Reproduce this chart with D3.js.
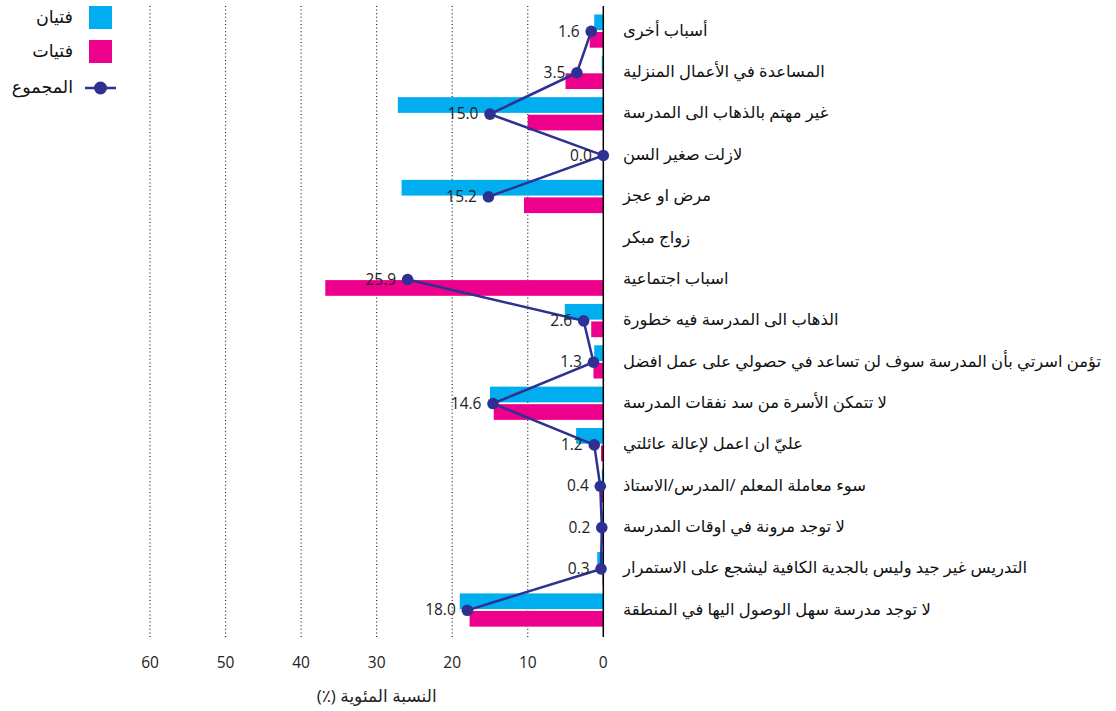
<!DOCTYPE html>
<html><head><meta charset="utf-8">
<script src="https://cdn.jsdelivr.net/npm/d3@7/dist/d3.min.js"></script>
<style>
body{margin:0;background:#fff;}
svg{display:block;font-family:"Segoe UI","Open Sans","DejaVu Sans",sans-serif;}
</style></head><body>
<svg id="chart" width="1116" height="711"></svg>
<script>
const categories = [
  "أسباب أخرى",
  "المساعدة في الأعمال المنزلية",
  "غير مهتم بالذهاب الى المدرسة",
  "لازلت صغير السن",
  "مرض او عجز",
  "زواج مبكر",
  "اسباب اجتماعية",
  "الذهاب الى المدرسة فيه خطورة",
  "تؤمن اسرتي بأن المدرسة سوف لن تساعد في حصولي على عمل افضل",
  "لا تتمكن الأسرة من سد نفقات المدرسة",
  "عليّ ان اعمل لإعالة عائلتي",
  "سوء معاملة المعلم /المدرس/الاستاذ",
  "لا توجد مرونة في اوقات المدرسة",
  "التدريس غير جيد وليس بالجدية الكافية ليشجع على الاستمرار",
  "لا توجد مدرسة سهل الوصول اليها في المنطقة"
];
const boys  = [1.2, 0.2, 27.2, 0, 26.7, 0, 0, 5.1, 1.2, 15.0, 3.6, 0.2, 0.3, 0.8, 19.0];
const girls = [1.8, 5.0, 10.0, 0, 10.5, 0, 36.8, 1.6, 1.3, 14.5, 0.3, 0.4, 0.2, 0.1, 17.7];
const total = [1.6, 3.5, 15.0, 0.0, 15.2, null, 25.9, 2.6, 1.3, 14.6, 1.2, 0.4, 0.2, 0.3, 18.0];
const xTicks = [0, 10, 20, 30, 40, 50, 60];
const seriesNames = ["فتيان", "فتيات", "المجموع"];
const axisTitle = "النسبة المئوية (٪)";

const C_BOYS = "#00AEEF", C_GIRLS = "#EC008C", C_TOTAL = "#2E3192";

const svg = d3.select("#chart");
const x = d3.scaleLinear().domain([0, 60]).range([603.3, 150]);
const y = d3.scaleBand().domain(categories.map((d,i)=>i)).range([10.7, 631]);
const bw = y.bandwidth();
const barH = bw * 0.38;
const cy = i => y(i) + bw/2;

// gridlines
const gTop = 6, gBot = 637;
svg.append("g").selectAll("line").data(xTicks.filter(t=>t>0)).join("line")
  .attr("x1", d=>x(d)).attr("x2", d=>x(d)).attr("y1", gTop).attr("y2", gBot)
  .attr("stroke", "#222").attr("stroke-width", 1.2).attr("stroke-dasharray", "1,2.6");

// bars
const data = categories.map((c,i)=>({i, b: boys[i], g: girls[i], t: total[i]}));
svg.append("g").selectAll("rect").data(data.filter(d=>d.b>0)).join("rect")
  .attr("x", d=>x(d.b)).attr("width", d=>x(0)-x(d.b))
  .attr("y", d=>cy(d.i)-barH-1.2).attr("height", barH).attr("fill", C_BOYS);
svg.append("g").selectAll("rect").data(data.filter(d=>d.g>0)).join("rect")
  .attr("x", d=>x(d.g)).attr("width", d=>x(0)-x(d.g))
  .attr("y", d=>cy(d.i)+0.6).attr("height", barH).attr("fill", C_GIRLS);

// zero axis
svg.append("line").attr("x1", x(0)).attr("x2", x(0)).attr("y1", gTop).attr("y2", gBot)
  .attr("stroke", "#000").attr("stroke-width", 1.5);

// total line
const line = d3.line().defined(d=>d.t!==null).x(d=>x(d.t)).y(d=>cy(d.i));
svg.append("path").datum(data).attr("d", line).attr("fill", "none")
  .attr("stroke", C_TOTAL).attr("stroke-width", 2.5);
const pts = data.filter(d=>d.t!==null);
svg.append("g").selectAll("circle").data(pts).join("circle")
  .attr("cx", d=>x(d.t)).attr("cy", d=>cy(d.i)).attr("r", 5.8).attr("fill", C_TOTAL);
svg.append("g").selectAll("text").data(pts).join("text")
  .attr("x", d=>x(d.t)-11.5).attr("y", d=>cy(d.i)+1)
  .attr("text-anchor", "end").attr("dominant-baseline", "middle")
  .attr("font-size", 15.5).attr("fill", "#222").text(d=>d.t.toFixed(1));

// category labels
svg.append("g").selectAll("text").data(categories).join("text")
  .attr("direction", "rtl").attr("text-anchor", "end")
  .attr("x", 623).attr("y", (d,i)=>cy(i))
  .attr("dominant-baseline", "middle").attr("font-size", 16.4).attr("fill", "#111")
  .text(d=>d);

// x axis tick labels
svg.append("g").selectAll("text").data(xTicks).join("text")
  .attr("x", d=>x(d)).attr("y", 664).attr("text-anchor", "middle")
  .attr("dominant-baseline", "middle").attr("font-size", 15.5).attr("fill", "#222")
  .text(d=>d);
svg.append("text").attr("direction", "rtl").attr("x", (x(0)+x(60))/2).attr("y", 697)
  .attr("text-anchor", "middle").attr("dominant-baseline", "middle")
  .attr("font-size", 17).attr("fill", "#222").text(axisTitle);

// legend
const lg = svg.append("g");
lg.append("rect").attr("x", 89).attr("y", 6).attr("width", 23).attr("height", 23).attr("fill", C_BOYS);
lg.append("rect").attr("x", 89).attr("y", 40).attr("width", 23).attr("height", 23).attr("fill", C_GIRLS);
lg.append("line").attr("x1", 85).attr("x2", 116).attr("y1", 88).attr("y2", 88)
  .attr("stroke", C_TOTAL).attr("stroke-width", 2.5);
lg.append("circle").attr("cx", 100.5).attr("cy", 88).attr("r", 6.5).attr("fill", C_TOTAL);
lg.selectAll("text").data(seriesNames).join("text")
  .attr("direction", "rtl").attr("text-anchor", "start")
  .attr("x", 73).attr("y", (d,i)=>[18, 52, 88][i])
  .attr("dominant-baseline", "middle").attr("font-size", 17.5).attr("fill", "#111")
  .text(d=>d);
</script>
</body></html>
